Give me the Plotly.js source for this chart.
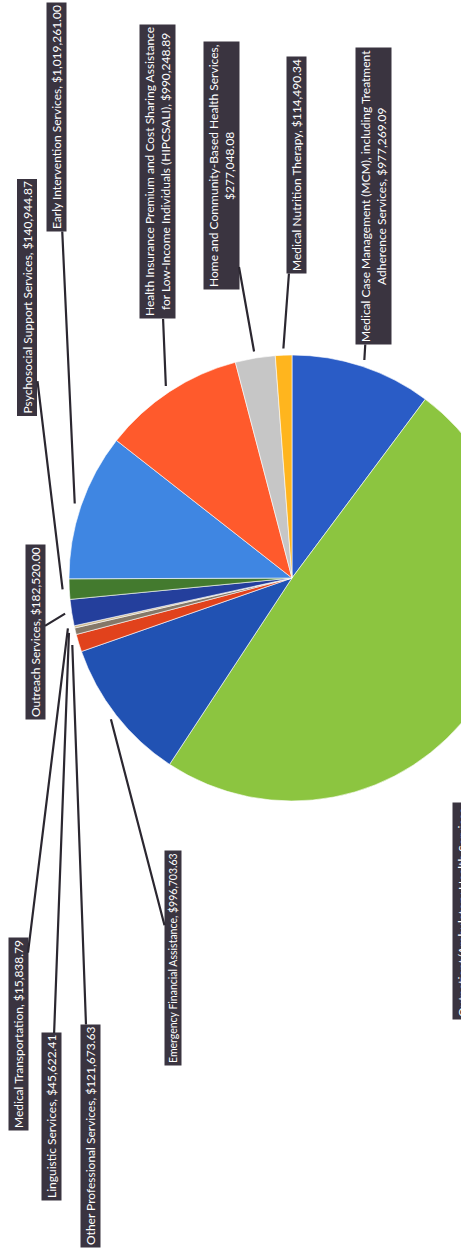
<!DOCTYPE html>
<html>
<head>
<meta charset="utf-8">
<script src="https://cdn.plot.ly/plotly-3.0.1.min.js"></script>
<style>
html,body{margin:0;padding:0;overflow:hidden;background:#ffffff;}
#chart{width:540px;height:1251px;}
</style>
</head>
<body>
<div id="chart"></div>
<script>
// ---- data ----
const categories = [
  "Medical Case Management (MCM), including Treatment Adherence Services",
  "Outpatient/Ambulatory Health Services",
  "Emergency Financial Assistance",
  "Other Professional Services",
  "Linguistic Services",
  "Medical Transportation",
  "Outreach Services",
  "Psychosocial Support Services",
  "Early Intervention Services",
  "Health Insurance Premium and Cost Sharing Assistance for Low-Income Individuals (HIPCSALI)",
  "Home and Community-Based Health Services",
  "Medical Nutrition Therapy"
];
const amounts = [977269.09, 4700000.00, 996703.63, 121673.63, 45622.41, 15838.79,
                 182520.00, 140944.87, 1019261.00, 990248.89, 277048.08, 114490.34];
const sliceColors = ["#2a5cc6", "#8cc540", "#2152b3", "#e1421c", "#857868", "#cdb98e",
                     "#243f9c", "#437a2e", "#3f86e2", "#ff5a2c", "#c6c6c6", "#ffb51e"];

// ---- layout settings (positions / sizes, not data) ----
const W = 540, H = 1251;
const PIE = {cx: 292, cy: 578, r: 223};
// label box centres in pixels, same order as categories
const labelPos = [[374,196],[470,911],[173,958],[90,1136],[51,1117],[18,1034],
                  [35,632],[27.5,298],[57,117],[157,172],[221,166],[297,165]];
const wrapWidth = [52, 40, 60, 60, 60, 60, 60, 60, 60, 52, 52, 60];
const labelFont = [12, 12, 10.5, 12, 12, 12, 12, 12, 12, 12, 12, 12];

function fmt(v){
  return "$" + v.toLocaleString("en-US",{minimumFractionDigits:2,maximumFractionDigits:2});
}
function wrap(s, w){
  const words = s.split(" "); const lines = []; let cur = "";
  words.forEach(wd => {
    const t = cur ? cur + " " + wd : wd;
    if (t.length > w && cur) { lines.push(cur); cur = wd; } else { cur = t; }
  });
  if (cur) lines.push(cur);
  return lines.join("<br>");
}

const total = amounts.reduce((a,b)=>a+b,0);
let cum = 0;
const annotations = amounts.map((v,i) => {
  const mid = (cum + v/2) / total * 2 * Math.PI; cum += v;
  const k = 1.03;
  const tx = PIE.cx + PIE.r * k * Math.sin(mid);
  const ty = PIE.cy - PIE.r * k * Math.cos(mid);
  const [lx, ly] = labelPos[i];
  return {
    xref: "paper", yref: "paper",
    x: tx / W, y: 1 - ty / H,
    axref: "pixel", ayref: "pixel",
    ax: lx - tx, ay: ly - ty,
    text: wrap(categories[i] + ", " + fmt(v), wrapWidth[i]),
    showarrow: true, arrowhead: 0, arrowwidth: 2.2, arrowcolor: "#2b2730",
    standoff: 0, startstandoff: 0,
    textangle: -90, align: "center",
    bgcolor: "#3a3440", borderpad: 2,
    font: {family: "Lato, 'Open Sans', sans-serif", size: labelFont[i], color: "#ffffff"}
  };
});

const trace = {
  type: "pie",
  values: amounts,
  labels: categories,
  sort: false,
  direction: "clockwise",
  rotation: 0,
  textinfo: "none",
  hoverinfo: "label+value",
  marker: {colors: sliceColors, line: {color: "#ffffff", width: 0.6}},
  domain: {
    x: [(PIE.cx - PIE.r) / W, (PIE.cx + PIE.r) / W],
    y: [1 - (PIE.cy + PIE.r) / H, 1 - (PIE.cy - PIE.r) / H]
  },
  showlegend: false
};

const layout = {
  width: W, height: H,
  margin: {l:0, r:0, t:0, b:0},
  paper_bgcolor: "#ffffff",
  showlegend: false,
  annotations: annotations
};

Plotly.newPlot("chart", [trace], layout, {displayModeBar: false, staticPlot: true});
</script>
</body>
</html>
